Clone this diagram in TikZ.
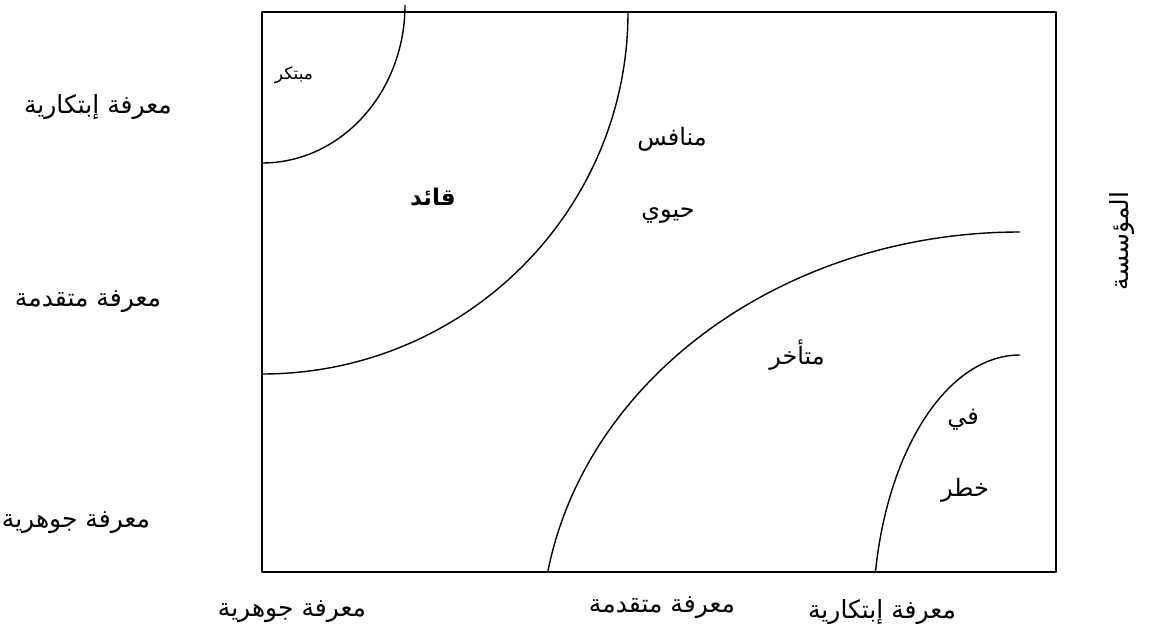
\documentclass[tikz,border=0pt]{standalone}
\usepackage{fontspec}
\usepackage{tikz}
\usetikzlibrary{positioning}
\TeXXeTstate=1
\newfontfamily\arabicfont[Script=Arabic]{DejaVu Sans}
\newcommand{\artxt}[1]{\arabicfont\beginR #1\endR}
\tikzset{lbl/.style={inner sep=1pt,font=\fontsize{12.5}{15}\selectfont},
  zone/.style={inner sep=1pt,font=\fontsize{12}{14}\selectfont}}

\begin{document}
\begin{tikzpicture}[x=0.5pt,y=0.5pt,line join=round,line width=0.7pt]
\useasboundingbox (0,0) rectangle (1151,633);
% --- frame
\draw[line width=1pt] (262,621) rectangle (1056,61);
% --- arcs, top left
\draw (405,628) arc[start angle=0,end angle=-90,x radius=143,y radius=158];
\draw (628,621) arc[start angle=0,end angle=-90,x radius=366,y radius=362];
% --- arcs, bottom right
\draw (1020,401) arc[start angle=90,end angle=170.4,x radius=479,y radius=408];
\draw (1020,278) arc[start angle=90,end angle=169.56,x radius=147,y radius=265];
% --- zone names
\node[zone,font=\fontsize{8.5}{10}\selectfont] (mubtakir) at (294,558) {\artxt{مبتكر}};
\node[zone,font=\bfseries\fontsize{11.5}{14}\selectfont] (qaid) at (433,436) {\artxt{قائد}};
\node[zone] (munafis) at (672,494) {\artxt{منافس}};
\node[zone] (hayawi) at (668,418) {\artxt{حيوي}};
\node[zone] (mutaakhir) at (797,278) {\artxt{متأخر}};
\node[zone] (fi) at (963,213) {\artxt{في}};
\node[zone] (khatar) at (965,143) {\artxt{خطر}};
% --- left axis
\node[lbl] (l3) at (98,526) {\artxt{معرفة إبتكارية}};
\node[lbl] (l2) at (88,331) {\artxt{معرفة متقدمة}};
\node[lbl] (l1) at (76,110) {\artxt{معرفة جوهرية}};
% --- bottom axis
\node[lbl] (b1) at (292,21) {\artxt{معرفة جوهرية}};
\node[lbl] (b2) at (662,25) {\artxt{معرفة متقدمة}};
\node[lbl] (b3) at (882,21) {\artxt{معرفة إبتكارية}};
% --- right
\node[lbl,rotate=90] (org) at (1122,392) {\artxt{المؤسسة}};
\end{tikzpicture}
\end{document}
